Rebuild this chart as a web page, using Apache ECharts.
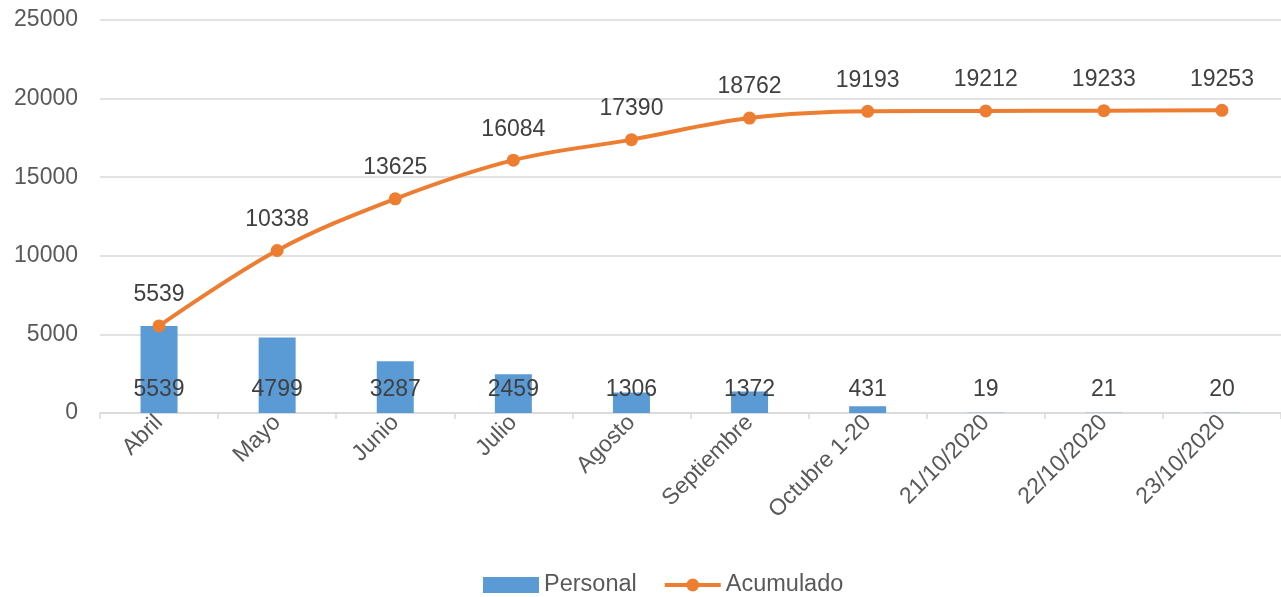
<!DOCTYPE html>
<html><head><meta charset="utf-8">
<script src="https://cdn.jsdelivr.net/npm/echarts@6/dist/echarts.min.js"></script>
<style>html,body{margin:0;padding:0;background:#fff}#c{width:1281px;height:597px}</style>
</head><body><div id="c"></div>
<script>
const categories = ['Abril','Mayo','Junio','Julio','Agosto','Septiembre','Octubre 1-20','21/10/2020','22/10/2020','23/10/2020'];
const personal = [5539,4799,3287,2459,1306,1372,431,19,21,20];
const acumulado = [5539,10338,13625,16084,17390,18762,19193,19212,19233,19253];
const yTicks = [0,5000,10000,15000,20000,25000];

const font = '"Liberation Sans", Arial, sans-serif';
const chart = echarts.init(document.getElementById('c'), null, {renderer:'canvas'});
chart.setOption({
  animation:false,
  textStyle:{fontFamily:font},
  grid:{left:100, top:20, width:1190, height:393, containLabel:false},
  legend:{
    top:573, left:483, itemGap:26, itemWidth:56, itemHeight:16, padding:0,
    textStyle:{fontSize:23.5, color:'#595959', fontFamily:font},
    data:[
      {name:'Personal', icon:'rect'},
      {name:'Acumulado', itemStyle:{color:'#ED7D31'}, lineStyle:{width:4, color:'#ED7D31'}}
    ]
  },
  xAxis:{
    type:'category', data:categories, boundaryGap:true,
    axisLine:{lineStyle:{color:'#d9d9d9', width:1.5}},
    axisTick:{show:true, length:6, lineStyle:{color:'#d9d9d9', width:1.5}},
    axisLabel:{rotate:45, fontSize:23, color:'#595959', margin:6, interval:0, fontFamily:font}
  },
  yAxis:{
    type:'value', min:0, max:25000, interval:5000,
    axisLine:{show:false}, axisTick:{show:false},
    splitLine:{lineStyle:{color:'#d9d9d9', width:1.5}},
    axisLabel:{fontSize:23, color:'#595959', margin:22, fontFamily:font,
      formatter:function(v){ return yTicks.indexOf(v) >= 0 ? String(v) : ''; }}
  },
  series:[
    {
      name:'Personal', type:'bar', data:personal, barWidth:37,
      itemStyle:{color:'#5B9BD5'},
      label:{show:true, position:'insideBottom', distance:12, fontSize:23, color:'#404040', fontFamily:font}
    },
    {
      name:'Acumulado', type:'line', data:acumulado, smooth:0.35,
      symbol:'circle', symbolSize:13,
      lineStyle:{color:'#ED7D31', width:4}, itemStyle:{color:'#ED7D31'},
      label:{show:true, position:'top', distance:13, fontSize:23, color:'#404040', fontFamily:font}
    }
  ]
});
</script></body></html>
